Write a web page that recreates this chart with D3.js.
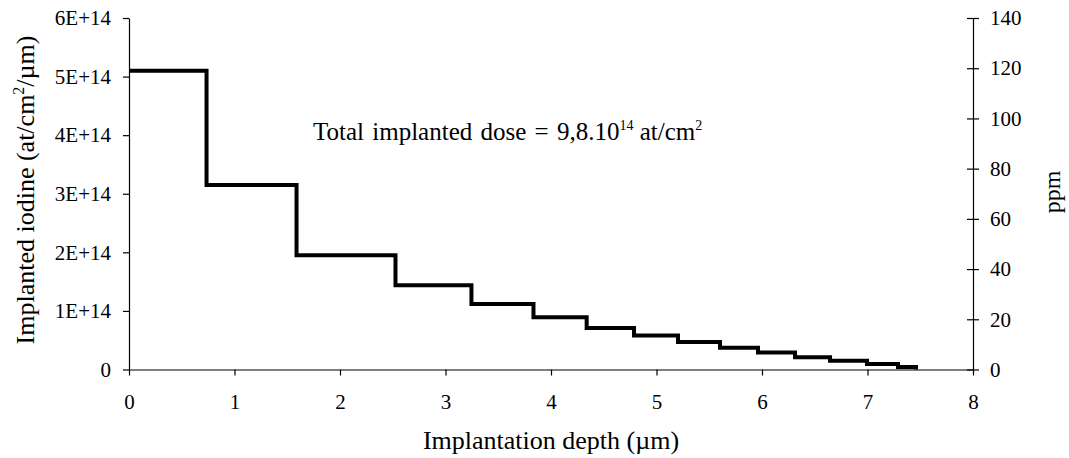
<!DOCTYPE html>
<meta charset="utf-8">
<style>
  body { margin: 0; background: #fff; }
  svg text { font-family: "Liberation Serif", "Times New Roman", serif; fill: #000; }
</style>
<svg width="1069" height="458"></svg>
<script src="https://cdn.jsdelivr.net/npm/d3@7"></script>
<script>

// step edges (µm) and implanted iodine per step (at/cm2/µm)
var depthEdges = [0, 0.735, 1.588, 2.526, 3.246, 3.834, 4.338, 4.787, 5.204, 5.602, 5.962, 6.313, 6.645, 6.995, 7.289, 7.460];
var iodine = [5.10e14, 3.15e14, 1.95e14, 1.44e14, 1.12e14, 0.89e14, 0.71e14, 0.58e14, 0.47e14, 0.37e14, 0.29e14, 0.21e14, 0.15e14, 0.094e14, 0.043e14];
var xTicks = [0, 1, 2, 3, 4, 5, 6, 7, 8];
var leftTicks = [0, 1e14, 2e14, 3e14, 4e14, 5e14, 6e14];
var leftLabels = ["0", "1E+14", "2E+14", "3E+14", "4E+14", "5E+14", "6E+14"];
var rightTicks = [0, 20, 40, 60, 80, 100, 120, 140];

var svg = d3.select("svg");

var x = d3.scaleLinear().domain([0, 8]).range([129, 973]);
var y = d3.scaleLinear().domain([0, 6e14]).range([369.5, 18]);
var y2 = d3.scaleLinear().domain([0, 140]).range([369.5, 18]);

// build step points
var pts = [];
iodine.forEach(function(v, i) {
  pts.push([depthEdges[i], v]);
  pts.push([depthEdges[i + 1], v]);
});
pts.push([depthEdges[depthEdges.length - 1], 0]);

var line = d3.line()
  .x(function(d) { return x(d[0]); })
  .y(function(d) { return y(d[1]); });

// axes
var gx = svg.append("g").attr("transform", "translate(0," + y(0) + ")")
  .call(d3.axisBottom(x).tickValues(xTicks).tickSize(6).tickPadding(19).tickSizeOuter(0));
var gl = svg.append("g").attr("transform", "translate(" + x(0) + ",0)")
  .call(d3.axisLeft(y).tickValues(leftTicks).tickSize(6).tickPadding(12).tickSizeOuter(0)
    .tickFormat(function(d, i) { return leftLabels[i]; }));
var gr = svg.append("g").attr("transform", "translate(" + x(8) + ",0)")
  .call(d3.axisRight(y2).tickValues(rightTicks).tickSize(6).tickPadding(11).tickSizeOuter(0));

// right ticks cross the axis
gr.selectAll(".tick line").attr("x1", -6);

[gx, gl, gr].forEach(function(g) {
  g.selectAll("text").style("font-size", "21px").attr("fill", "#000");
  g.selectAll("line, path").attr("stroke", "#000").attr("stroke-width", 1.2);
});

svg.append("path")
  .datum(pts)
  .attr("d", line)
  .attr("fill", "none")
  .attr("stroke", "#000")
  .attr("stroke-width", 4)
  .attr("stroke-linejoin", "miter");

// titles
var lt = svg.append("text")
  .attr("transform", "translate(34,190) rotate(-90)")
  .attr("text-anchor", "middle")
  .style("font-size", "26px");
lt.append("tspan").text("Implanted iodine (at/cm");
lt.append("tspan").attr("dy", -10).style("font-size", "16px").text("2");
lt.append("tspan").attr("dy", 10).text("/\u00b5m)");

svg.append("text")
  .attr("transform", "translate(1060,192) rotate(-90)")
  .attr("text-anchor", "middle")
  .style("font-size", "24px")
  .text("ppm");

svg.append("text")
  .attr("x", 551).attr("y", 449)
  .attr("text-anchor", "middle")
  .style("font-size", "26px")
  .text("Implantation depth (\u00b5m)");

var ann = svg.append("text")
  .attr("x", 313).attr("y", 140)
  .style("font-size", "25px");
ann.append("tspan").style("word-spacing", "2px").text("Total implanted dose = 9,8.10");
ann.append("tspan").attr("dy", -10).style("font-size", "14px").text("14");
ann.append("tspan").attr("dy", 10).text(" at/cm");
ann.append("tspan").attr("dy", -10).style("font-size", "14px").text("2");

</script>
